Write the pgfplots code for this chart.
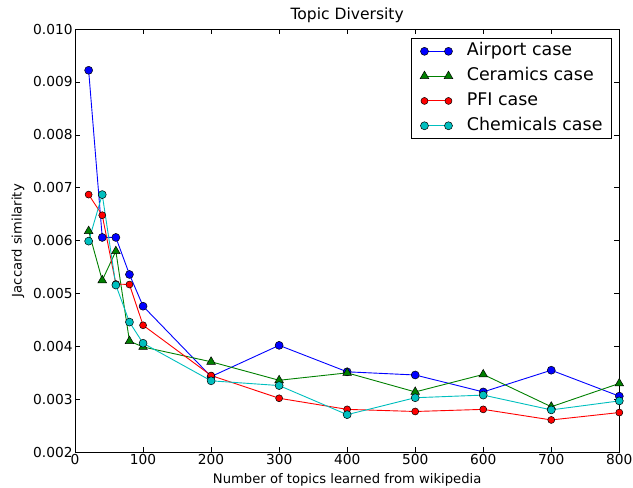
\documentclass[border=0pt]{standalone}
\usepackage{fontspec}
\setmainfont{DejaVu Sans}
\usepackage{pgfplots}
\pgfplotsset{compat=1.18}
\definecolor{mplgreen}{rgb}{0,0.5,0}
\definecolor{mplcyan}{rgb}{0,0.75,0.75}
\begin{document}
\begin{tikzpicture}[x=1bp,y=1bp]
\begin{axis}[
    scale only axis,
    width=544bp, height=423bp,
    xmin=0, xmax=800,
    ymin=0.002, ymax=0.010,
    xtick={0,100,...,800},
    ytick={0.002,0.003,0.004,0.005,0.006,0.007,0.008,0.009,0.010},
    scaled y ticks=false,
    yticklabel style={/pgf/number format/fixed,/pgf/number format/fixed zerofill,/pgf/number format/precision=3, xshift=1bp},
    xticklabel style={yshift=1bp},
    /pgf/number format/assume math mode=true,
    tick align=inside,
    major tick length=5bp,
    minor tick num=0,
    tick style={black, line width=0.6bp},
    axis line style={line width=0.8bp},
    ticklabel style={font=\fontsize{13.8}{16}\selectfont},
    xlabel={Number of topics learned from wikipedia},
    ylabel={Jaccard similarity},
    label style={font=\fontsize{13.2}{15}\selectfont},
    xlabel style={at={(axis description cs:0.5,-0.0733)}, anchor=base},
    ylabel style={at={(axis description cs:-0.105,0.5)}, anchor=center},
    title={Topic Diversity},
    title style={font=\fontsize{15.6}{18}\selectfont, at={(axis description cs:0.5,1)}, anchor=base, yshift=4bp},
    legend style={at={(1,1)}, anchor=north east, xshift=-8bp, yshift=-9.3bp,
        font=\fontsize{17.5}{20}\selectfont, draw=black, line width=0.6bp,
        row sep=0bp, column sep=14bp, inner xsep=8.5bp, inner ysep=0.3bp,
        nodes={text height=12.5bp, text depth=3.5bp, inner xsep=0bp, inner ysep=4.4bp}},
    legend cell align=left,
    legend image code/.code={\draw plot coordinates {(0bp,0bp) (24bp,0bp)};},
    every axis plot/.append style={line width=0.9bp},
]
\addplot[blue, mark=*, mark size=4bp, mark options={fill=blue, draw=black, line width=0.5bp}] coordinates {
    (20,0.00922) (40,0.00606) (60,0.00606) (80,0.00536) (100,0.00476)
    (200,0.00343) (300,0.00402) (400,0.00352) (500,0.00346) (600,0.00314)
    (700,0.00355) (800,0.00306)
};
\addplot[mplgreen, mark=triangle*, mark size=5bp, mark options={fill=mplgreen, draw=black, line width=0.5bp}] coordinates {
    (20,0.00618) (40,0.00525) (60,0.00580) (80,0.00410) (100,0.00399)
    (200,0.00371) (300,0.00336) (400,0.00350) (500,0.00314) (600,0.00347)
    (700,0.00286) (800,0.00330)
};
\addplot[red, mark=*, mark size=3.5bp, mark options={fill=red, draw=black, line width=0.5bp}] coordinates {
    (20,0.00687) (40,0.00648) (60,0.00518) (80,0.00517) (100,0.00440)
    (200,0.00345) (300,0.00302) (400,0.00281) (500,0.00277) (600,0.00281)
    (700,0.00261) (800,0.00275)
};
\addplot[mplcyan, mark=*, mark size=4bp, mark options={fill=mplcyan, draw=black, line width=0.5bp}] coordinates {
    (20,0.00599) (40,0.00687) (60,0.00516) (80,0.00446) (100,0.00406)
    (200,0.00335) (300,0.00326) (400,0.00271) (500,0.00303) (600,0.00308)
    (700,0.00280) (800,0.00297)
};
\legend{Airport case, Ceramics case, PFI case, Chemicals case}
\end{axis}
\pgfresetboundingbox
\path[use as bounding box] ([shift={(-75bp,-35bp)}]current axis.south west) rectangle ([shift={(13.7bp,29bp)}]current axis.north east);
\end{tikzpicture}
\end{document}
